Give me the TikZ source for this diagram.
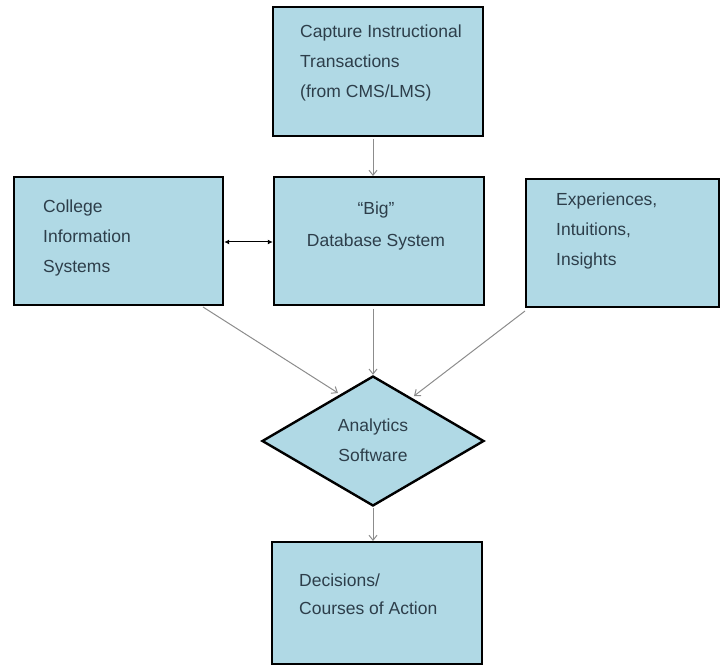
\documentclass[tikz,border=0pt]{standalone}
\usepackage{fontspec}
\setmainfont{Liberation Sans}
\usetikzlibrary{arrows.meta,shapes.geometric}
\definecolor{boxfill}{RGB}{176,217,229}
\definecolor{txt}{RGB}{45,62,74}
\definecolor{arr}{RGB}{140,140,140}
\tikzset{
  box/.style={draw=black, line width=2.4pt, fill=boxfill, inner sep=0pt},
  lbl/.style={text=txt, font=\fontsize{17.5}{30}\selectfont, inner sep=0pt},
  flow/.style={draw=arr, line width=1pt, -{Straight Barb[length=5pt,width=8pt]}},
  link/.style={draw=black, line width=1pt, {Latex[length=5pt,width=5pt]}-{Latex[length=5pt,width=5pt]}}
}
\begin{document}
\begin{tikzpicture}[x=1pt,y=-1pt]
\useasboundingbox (0,0) rectangle (726,668);
% boxes
\node[box, minimum width=210pt, minimum height=129pt] (cap) at (378,71.5) {};
\node[box, minimum width=209pt, minimum height=128pt] (cis) at (118.5,241) {};
\node[box, minimum width=210pt, minimum height=128pt] (db) at (379,241) {};
\node[box, minimum width=193pt, minimum height=128pt] (exp) at (622.5,243) {};
\node[box, diamond, minimum width=222pt, minimum height=130pt] (ana) at (373,441) {};
\node[box, minimum width=210pt, minimum height=122pt] (dec) at (377,603) {};
% texts
\node[lbl, anchor=west, align=left] (capT) at (300,63) {Capture Instructional\\Transactions\\(from CMS/LMS)};
\node[lbl, anchor=west, align=left] (cisT) at (43,238) {College\\Information\\Systems};
\node[lbl, align=center] (dbT) at (376,226) {“Big”\\[2pt]Database System};
\node[lbl, anchor=west, align=left] (expT) at (556,231) {Experiences,\\Intuitions,\\Insights};
\node[lbl, align=center] (anaT) at (373,440) {Analytics\\Software};
\node[lbl, anchor=west, align=left] (decT) at (299,594) {Decisions/\\[-2pt]Courses of Action};
% connector end points
\coordinate (capOut) at (373,139);
\coordinate (dbIn) at (373,176);
\coordinate (cisOut) at (203,307);
\coordinate (anaL) at (338,393);
\coordinate (dbOut) at (373,309);
\coordinate (expOut) at (525,311);
\coordinate (anaR) at (414,396);
\coordinate (anaOut) at (373,508);
\coordinate (decIn) at (373,541);
% connectors
\draw[flow] (capOut) -- (dbIn);
\draw[link] (cis.east |- 0,242) -- (db.west |- 0,242);
\draw[flow] (cisOut) -- (anaL);
\draw[flow] (dbOut) -- (ana.north);
\draw[flow] (expOut) -- (anaR);
\draw[flow] (anaOut) -- (decIn);
\end{tikzpicture}
\end{document}
